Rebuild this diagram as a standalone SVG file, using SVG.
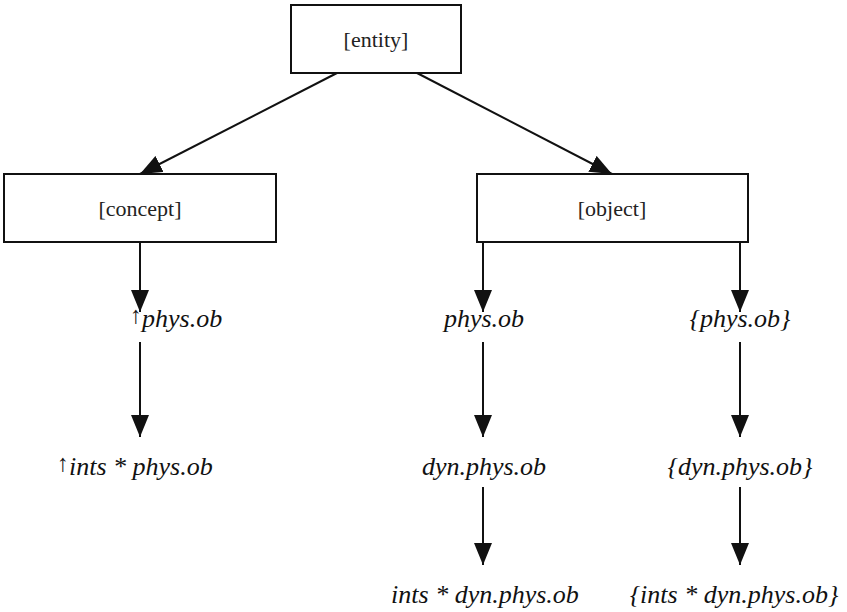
<svg xmlns="http://www.w3.org/2000/svg" width="847" height="612" viewBox="0 0 847 612">
<defs>
<marker id="ah" markerUnits="userSpaceOnUse" markerWidth="22" markerHeight="18" refX="22" refY="9" orient="auto">
<path d="M0,0 L22,9 L0,18 z" fill="#111"/>
</marker>
</defs>
<rect width="847" height="612" fill="#fff"/>
<g id="connectors" stroke="#111" stroke-width="2" fill="none" marker-end="url(#ah)">
<line x1="337" y1="73" x2="140" y2="174"/>
<line x1="417" y1="73" x2="612" y2="174"/>
<line x1="140" y1="242" x2="140" y2="312"/>
<line x1="140" y1="342" x2="140" y2="437"/>
<line x1="483" y1="242" x2="483" y2="312"/>
<line x1="483" y1="342" x2="483" y2="437"/>
<line x1="483" y1="487" x2="483" y2="565"/>
<line x1="740" y1="242" x2="740" y2="312"/>
<line x1="740" y1="342" x2="740" y2="437"/>
<line x1="740" y1="487" x2="740" y2="565"/>
</g>
<g id="entity"><rect x="291" y="5" width="170" height="68" fill="#fff" stroke="#111" stroke-width="2"/><text font-family="Liberation Serif" font-size="22" fill="#222" text-anchor="middle" x="376" y="47">[entity]</text></g>
<g id="concept"><rect x="4" y="174" width="272" height="68" fill="#fff" stroke="#111" stroke-width="2"/><text font-family="Liberation Serif" font-size="22" fill="#222" text-anchor="middle" x="140" y="216">[concept]</text></g>
<g id="object"><rect x="477" y="174" width="271" height="68" fill="#fff" stroke="#111" stroke-width="2"/><text font-family="Liberation Serif" font-size="22" fill="#222" text-anchor="middle" x="612" y="216">[object]</text></g>
<g id="c1"><text font-family="Liberation Serif" font-size="26" font-style="italic" fill="#111" x="130" y="327"><tspan font-style="normal" font-size="24" dy="-4">↑</tspan><tspan dy="4">phys.ob</tspan></text></g>
<g id="c2"><text font-family="Liberation Serif" font-size="26" font-style="italic" fill="#111" x="57" y="475"><tspan font-style="normal" font-size="24" dy="-4">↑</tspan><tspan dy="4">ints * phys.ob</tspan></text></g>
<g id="o1"><text font-family="Liberation Serif" font-size="26" font-style="italic" fill="#111" x="484" y="327" text-anchor="middle">phys.ob</text></g>
<g id="o2"><text font-family="Liberation Serif" font-size="26" font-style="italic" fill="#111" x="484" y="475" text-anchor="middle">dyn.phys.ob</text></g>
<g id="o3"><text font-family="Liberation Serif" font-size="26" font-style="italic" fill="#111" x="485" y="603" text-anchor="middle">ints * dyn.phys.ob</text></g>
<g id="s1"><text font-family="Liberation Serif" font-size="26" font-style="italic" fill="#111" x="740" y="327" text-anchor="middle">{phys.ob}</text></g>
<g id="s2"><text font-family="Liberation Serif" font-size="26" font-style="italic" fill="#111" x="740" y="475" text-anchor="middle">{dyn.phys.ob}</text></g>
<g id="s3"><text font-family="Liberation Serif" font-size="26" font-style="italic" fill="#111" x="734" y="603" text-anchor="middle">{ints * dyn.phys.ob}</text></g>
</svg>
